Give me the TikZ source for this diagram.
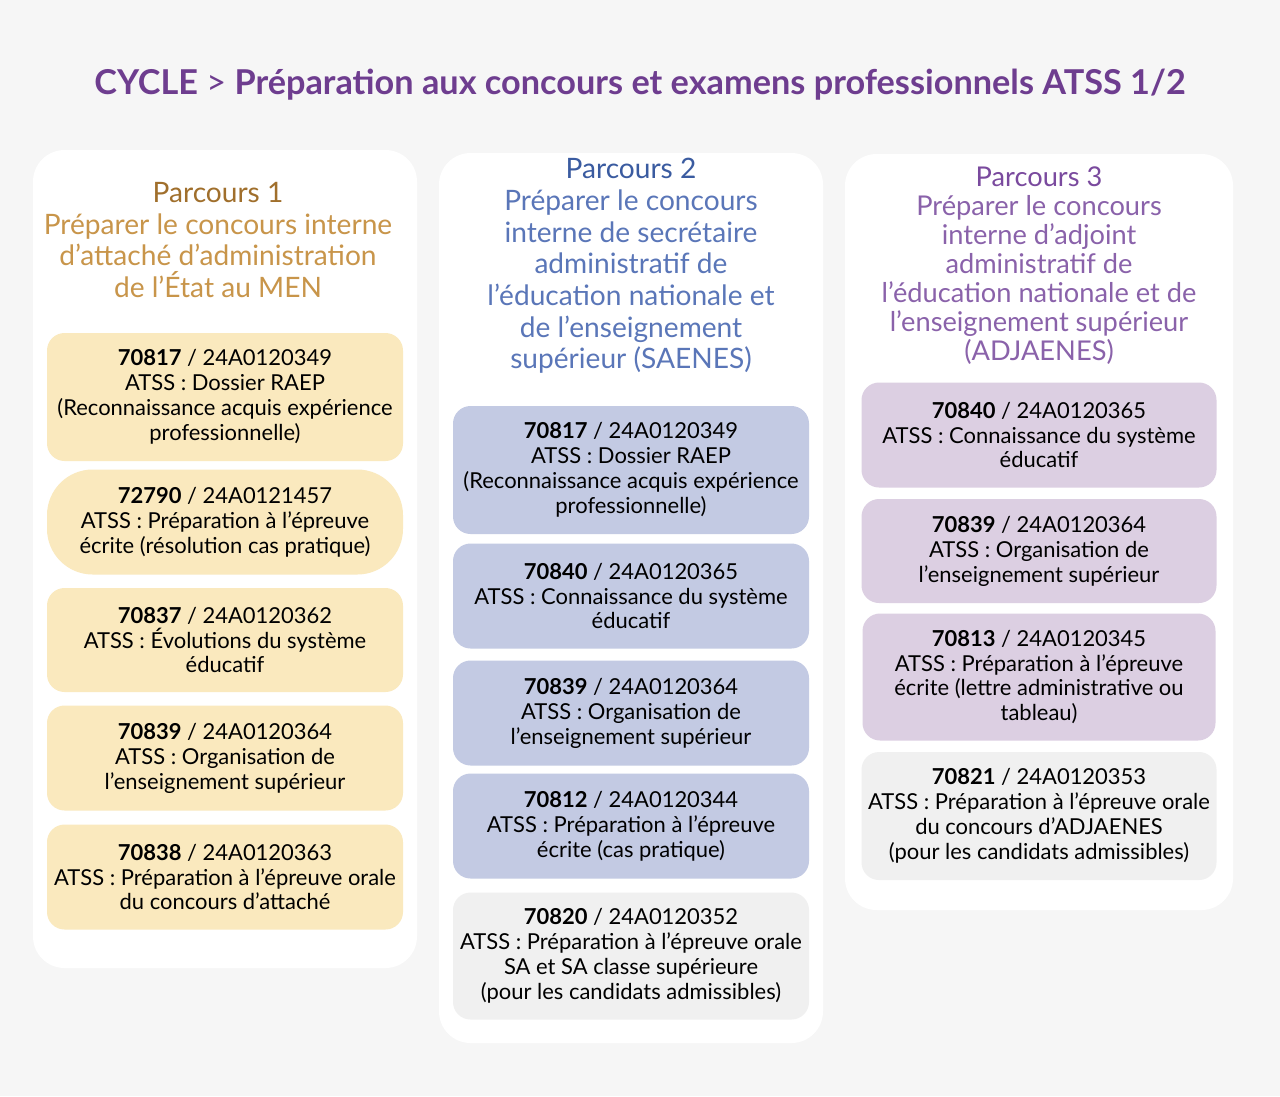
\documentclass[tikz,border=0pt]{standalone}
\usepackage{fontspec}
\setmainfont{Lato}
\definecolor{bgc}{HTML}{F6F6F6}
\definecolor{titlec}{HTML}{6E3D8F}
\definecolor{brownh}{HTML}{A06F2C}
\definecolor{brownt}{HTML}{C8954A}
\definecolor{yellowb}{HTML}{FAE9BE}
\definecolor{blueh}{HTML}{3A5BA0}
\definecolor{bluet}{HTML}{5A76B8}
\definecolor{blueb}{HTML}{C3CAE3}
\definecolor{purph}{HTML}{7A4A9E}
\definecolor{purpt}{HTML}{8A62AA}
\definecolor{purpb}{HTML}{DCCFE2}
\definecolor{grayb}{HTML}{F0F0F0}
\tikzset{
  panel/.style={fill=white, draw=none, rounded corners=18pt},
  course/.style={draw=none, rounded corners=10pt, align=center,
    font=\fontsize{12.5}{14.2}\selectfont},
  head/.style={align=center, font=\fontsize{16}{18}\selectfont}
}
\newcommand{\cid}[2]{\textbf{#1} / #2}
\begin{document}
\begin{tikzpicture}[x=0.02cm, y=-0.02cm]
  \fill[bgc] (0,0) rectangle (1280,1096);
  \useasboundingbox (0,0) rectangle (1280,1096);

  \node[font=\fontsize{19.5}{24}\selectfont\bfseries, text=titlec] (title) at (640,85)
    {CYCLE \textmd{>} Préparation aux concours et examens professionnels ATSS 1/2};

  % panels
  \fill[panel] (33,150) rectangle (417,968);
  \fill[panel] (439,153) rectangle (823,1043);
  \fill[panel] (845,154) rectangle (1233,910);

  % parcours 1
  \node[head, text=brownt] (h1) at (218,240)
    {\textcolor{brownh}{Parcours 1}\\Préparer le concours interne\\d’attaché d’administration\\de l’État au MEN};
  \node[course, fill=yellowb, minimum width=356*0.02cm, minimum height=128*0.02cm] (p1a) at (225,397)
    {\cid{70817}{24A0120349}\\ATSS : Dossier RAEP\\(Reconnaissance acquis expérience\\professionnelle)};
  \node[course, fill=yellowb, rounded corners=26pt, minimum width=356*0.02cm, minimum height=105*0.02cm] (p1b) at (225,522)
    {\cid{72790}{24A0121457}\\ATSS : Préparation à l’épreuve\\écrite (résolution cas pratique)};
  \node[course, fill=yellowb, minimum width=356*0.02cm, minimum height=104*0.02cm] (p1c) at (225,640)
    {\cid{70837}{24A0120362}\\ATSS : Évolutions du système\\éducatif};
  \node[course, fill=yellowb, minimum width=356*0.02cm, minimum height=105*0.02cm] (p1d) at (225,758)
    {\cid{70839}{24A0120364}\\ATSS : Organisation de\\l’enseignement supérieur};
  \node[course, fill=yellowb, minimum width=356*0.02cm, minimum height=105*0.02cm] (p1e) at (225,877)
    {\cid{70838}{24A0120363}\\ATSS : Préparation à l'épreuve orale\\du concours d’attaché};

  % parcours 2
  \node[head, text=bluet] (h2) at (631,266)
    {\textcolor{blueh}{Parcours 2}\\Préparer le concours\\interne de secrétaire\\administratif de\\l’éducation nationale et\\de l’enseignement\\supérieur (SAENES)};
  \node[course, fill=blueb, minimum width=356*0.02cm, minimum height=128*0.02cm] (p2a) at (631,470)
    {\cid{70817}{24A0120349}\\ATSS : Dossier RAEP\\(Reconnaissance acquis expérience\\professionnelle)};
  \node[course, fill=blueb, minimum width=356*0.02cm, minimum height=105*0.02cm] (p2b) at (631,596)
    {\cid{70840}{24A0120365}\\ATSS : Connaissance du système\\éducatif};
  \node[course, fill=blueb, minimum width=356*0.02cm, minimum height=105*0.02cm] (p2c) at (631,713)
    {\cid{70839}{24A0120364}\\ATSS : Organisation de\\l’enseignement supérieur};
  \node[course, fill=blueb, minimum width=356*0.02cm, minimum height=105*0.02cm] (p2d) at (631,826)
    {\cid{70812}{24A0120344}\\ATSS : Préparation à l’épreuve\\écrite (cas pratique)};
  \node[course, fill=grayb, minimum width=356*0.02cm, minimum height=127*0.02cm] (p2e) at (631,956)
    {\cid{70820}{24A0120352}\\ATSS : Préparation à l’épreuve orale\\SA et SA classe supérieure\\(pour les candidats admissibles)};

  % parcours 3
  \node[head, text=purpt, font=\fontsize{15.5}{16.5}\selectfont] (h3) at (1039,266)
    {\textcolor{purph}{Parcours 3}\\Préparer le concours\\interne d’adjoint\\administratif de\\l’éducation nationale et de\\l’enseignement supérieur\\(ADJAENES)};
  \node[course, fill=purpb, minimum width=355*0.02cm, minimum height=105*0.02cm] (p3a) at (1039,435)
    {\cid{70840}{24A0120365}\\ATSS : Connaissance du système\\éducatif};
  \node[course, fill=purpb, minimum width=355*0.02cm, minimum height=104*0.02cm] (p3b) at (1039,551)
    {\cid{70839}{24A0120364}\\ATSS : Organisation de\\l’enseignement supérieur};
  \node[course, fill=purpb, minimum width=353*0.02cm, minimum height=127*0.02cm] (p3c) at (1039,677)
    {\cid{70813}{24A0120345}\\ATSS : Préparation à l’épreuve\\écrite (lettre administrative ou\\tableau)};
  \node[course, fill=grayb, minimum width=355*0.02cm, minimum height=128*0.02cm] (p3d) at (1039,816)
    {\cid{70821}{24A0120353}\\ATSS : Préparation à l’épreuve orale\\du concours d’ADJAENES\\(pour les candidats admissibles)};
\end{tikzpicture}
\end{document}
